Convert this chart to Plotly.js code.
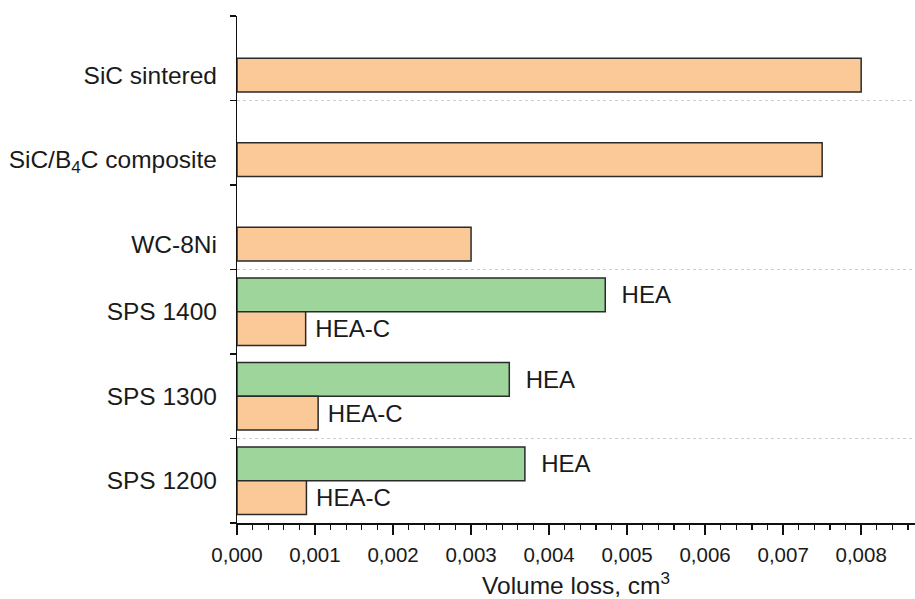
<!DOCTYPE html>
<html>
<head>
<meta charset="utf-8">
<script src="https://cdn.plot.ly/plotly-3.0.1.min.js"></script>
<style>html,body{margin:0;padding:0;background:#fff;}#chart{width:915px;height:599px;}</style>
</head>
<body>
<div id="chart"></div>
<script>
// Categories, bottom to top
const categories = ['SPS 1200', 'SPS 1300', 'SPS 1400', 'WC-8Ni', 'SiC/B<sub>4</sub>C composite', 'SiC sintered'];
// Volume loss, cm^3
const heaValues  = [0.00369, 0.00349, 0.00472, null, null, null];
const heacValues = [0.00089, 0.00104, 0.00088, 0.00300, 0.00750, 0.00800];
// Bar-end labels
const heaText  = ['HEA', 'HEA', 'HEA', '', '', ''];
const heacText = ['HEA-C', 'HEA-C', 'HEA-C', '', '', ''];
const xTickFormat = '.3f';

const NB = '\u00a0';
const FONT = 'Liberation Sans, Arial, sans-serif';
const TXT = '#1a1a1a';

// label positions: centered on the category, or on the single bar where no HEA value exists
const labelPos = categories.map((c, i) => heaValues[i] == null ? i - 0.2 : i);
const boundaries = categories.map((c, i) => i - 0.5).concat([categories.length - 0.5]);
const gridVals = boundaries.filter((b, i) => i % 2 === 1);
const yRange = [-0.5, categories.length - 0.5];

const traces = [
  {
    type: 'bar', orientation: 'h', name: 'HEA',
    y: categories, x: heaValues,
    offset: 0, width: 0.4,
    marker: {color: '#9DD59B', line: {color: '#2a2a2a', width: 1.5}},
    text: heaText.map(t => t ? NB + NB + t : null),
    textposition: 'outside', constraintext: 'none', cliponaxis: false,
    textfont: {family: FONT, size: 24, color: TXT},
    hoverinfo: 'x+y'
  },
  {
    type: 'bar', orientation: 'h', name: 'HEA-C',
    y: categories, x: heacValues,
    offset: -0.4, width: 0.4,
    marker: {color: '#FBC898', line: {color: '#2a2a2a', width: 1.5}},
    text: heacText.map(t => t ? NB + t : null),
    textposition: 'outside', constraintext: 'none', cliponaxis: false,
    textfont: {family: FONT, size: 24, color: TXT},
    hoverinfo: 'x+y'
  },
  {type: 'scatter', x: [], y: [], yaxis: 'y2', showlegend: false, hoverinfo: 'skip'},
  {type: 'scatter', x: [], y: [], yaxis: 'y3', showlegend: false, hoverinfo: 'skip'},
  {type: 'scatter', x: [], y: [], yaxis: 'y4', showlegend: false, hoverinfo: 'skip'}
];

const layout = {
  width: 915, height: 599,
  margin: {l: 237, r: 0, t: 16, b: 76},
  paper_bgcolor: '#fff', plot_bgcolor: '#fff',
  barmode: 'overlay',
  showlegend: false,
  separators: ', ',
  font: {family: FONT, color: TXT},
  xaxis: {
    range: [0, 0.00869], autorange: false,
    tick0: 0, dtick: 0.001, tickformat: xTickFormat,
    ticks: 'outside', ticklen: 10, tickwidth: 1.5, tickcolor: '#111',
    minor: {dtick: 0.0002, ticks: 'outside', ticklen: 5, tickwidth: 1.2, tickcolor: '#111', showgrid: false},
    showline: true, linecolor: '#111', linewidth: 1.5,
    showgrid: false, zeroline: false,
    tickfont: {family: FONT, size: 20.5, color: TXT},
    ticklabelstandoff: 3,
    title: {text: 'Volume loss, cm<sup>3</sup>', font: {family: FONT, size: 24.5, color: TXT}, standoff: 15},
    automargin: false
  },
  yaxis: {
    type: 'category', categoryorder: 'array', categoryarray: categories,
    range: yRange, autorange: false,
    showticklabels: false, ticks: '',
    showline: true, linecolor: '#111', linewidth: 1.5,
    showgrid: false, zeroline: false, automargin: false
  },
  yaxis2: {
    overlaying: 'y', anchor: 'x', side: 'left',
    range: yRange, autorange: false,
    tickmode: 'array', tickvals: labelPos, ticktext: categories,
    ticks: '', showline: false, showgrid: false, zeroline: false,
    tickfont: {family: FONT, size: 24.5, color: TXT},
    ticklabelstandoff: 19, automargin: false
  },
  yaxis3: {
    overlaying: 'y', anchor: 'x', side: 'left',
    range: yRange, autorange: false,
    tickmode: 'array', tickvals: boundaries,
    ticks: 'outside', ticklen: 6, tickwidth: 1.5, tickcolor: '#111',
    showticklabels: false, showline: false, showgrid: false, zeroline: false, automargin: false
  },
  yaxis4: {
    overlaying: 'y', anchor: 'x', side: 'left',
    range: yRange, autorange: false,
    tickmode: 'array', tickvals: gridVals,
    ticks: '', showticklabels: false, showline: false,
    showgrid: true, gridcolor: '#cdcdcd', gridwidth: 1, griddash: 'dot',
    zeroline: false, automargin: false
  }
};

Plotly.newPlot('chart', traces, layout, {displayModeBar: false, staticPlot: true});
</script>
</body>
</html>
